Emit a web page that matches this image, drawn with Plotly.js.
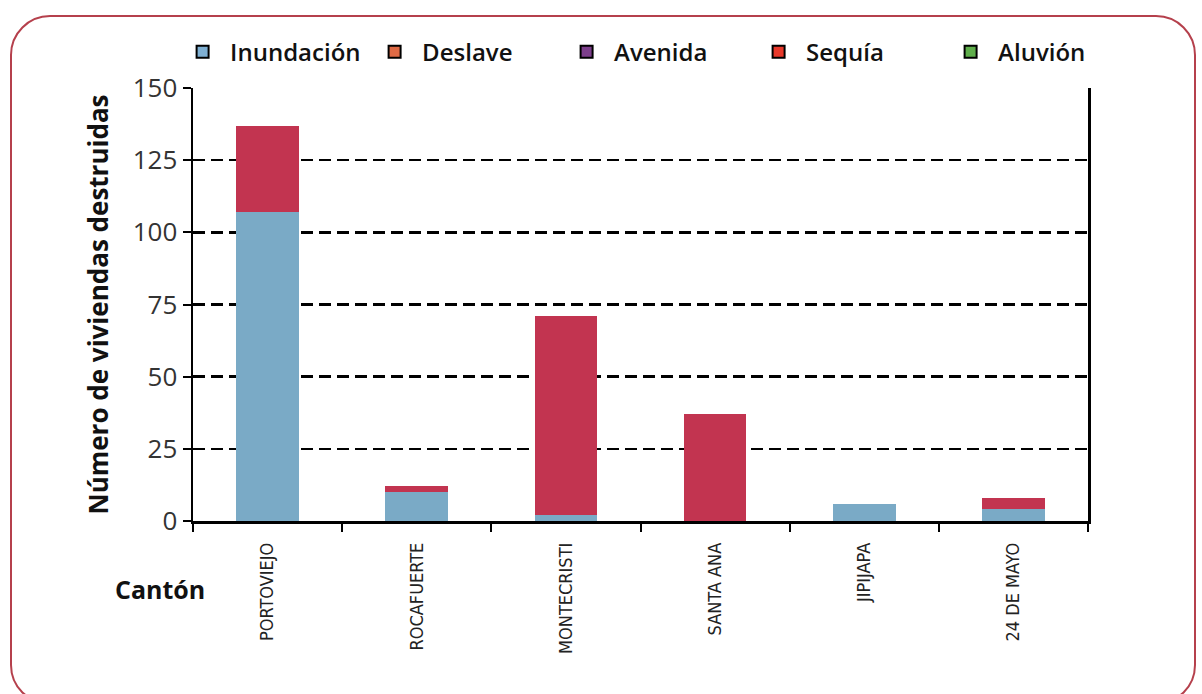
<!DOCTYPE html>
<html><head><meta charset="utf-8">
<script src="https://cdn.plot.ly/plotly-3.0.1.min.js"></script>
<style>
html,body{margin:0;padding:0;background:#fff;}
#frame{position:absolute;left:10px;top:15px;width:1186px;height:690px;border:2px solid #b5404c;border-radius:40px;box-sizing:border-box;}
#chart{position:absolute;left:0;top:0;width:1202px;height:694px;}
</style></head>
<body>
<div id="frame"></div>
<div id="chart"></div>
<script>
const cantones = ["PORTOVIEJO","ROCAFUERTE","MONTECRISTI","SANTA ANA","JIPIJAPA","24 DE MAYO"];
const inundacion = [107, 10, 2, 0, 6, 4];
const deslave    = [30, 2, 69, 37, 0, 4];
const avenida    = [0, 0, 0, 0, 0, 0];
const sequia     = [0, 0, 0, 0, 0, 0];
const aluvion    = [0, 0, 0, 0, 0, 0];
const seriesNames = ["Inundación","Deslave","Avenida","Sequía","Aluvión"];
const legendColors = ["#7fb0d3","#df6a45","#7d3f8c","#e8392b","#5fae4b"];
const barColors = ["#7aaac6","#c23450","#7d3f8c","#e8392b","#5fae4b"];
const yTicks = [0,25,50,75,100,125,150];

const allSeries = [inundacion, deslave, avenida, sequia, aluvion];
const traces = [];
allSeries.forEach((vals,i)=>{
  traces.push({type:'bar', x:cantones, y:vals, name:seriesNames[i], showlegend:false,
    marker:{color:barColors[i], line:{width:0}}, hoverinfo:'x+y+name'});
});
seriesNames.forEach((n,i)=>{
  traces.push({type:'bar', x:[cantones[0]], y:[null], name:n, showlegend:true,
    marker:{color:legendColors[i], line:{color:'#000', width:2}}});
});

const layout = {
  width:1202, height:694,
  paper_bgcolor:'rgba(0,0,0,0)', plot_bgcolor:'rgba(0,0,0,0)',
  margin:{l:193, r:114, t:88, b:173, autoexpand:false},
  barmode:'stack', bargap:0.58,
  font:{family:'"Open Sans", "Noto Sans", sans-serif', color:'#111'},
  showlegend:true,
  legend:{orientation:'h', x:-0.020, xanchor:'left', y:1.083, yanchor:'middle',
    font:{size:24, color:'#111', weight:600}, traceorder:'normal', itemwidth:45,
    entrywidth:132, entrywidthmode:'pixels',
    bgcolor:'rgba(0,0,0,0)'},
  xaxis:{type:'category', showline:true, linecolor:'#000', linewidth:2.5,
    ticks:'outside', tickson:'boundaries', ticklen:8, tickwidth:2, tickcolor:'#000',
    tickangle:-90, ticklabelstandoff:12,
    tickfont:{size:18, family:'"Liberation Sans Narrow", "DejaVu Sans Condensed", "Liberation Sans", sans-serif', color:'#222'},
    showgrid:false, zeroline:false, fixedrange:true},
  yaxis:{range:[0,150], tickvals:yTicks, ticktext:yTicks.map(String),
    showline:true, linecolor:'#000', linewidth:2.5, mirror:true,
    ticks:'outside', ticklen:8, tickwidth:2, tickcolor:'#000',
    tickfont:{size:26, color:'#333'},
    showgrid:true, gridcolor:'#000', gridwidth:2.5, griddash:'12px,6px', zeroline:false,
    title:{text:'<b>Número de viviendas destruidas</b>', font:{size:26, color:'#111'}, standoff:17}},
  annotations:[{text:'<b>Cantón</b>', xref:'paper', yref:'paper', x:-0.037, y:-0.158,
    xanchor:'center', yanchor:'middle', showarrow:false, font:{size:25, color:'#111'}}]
};
Plotly.newPlot('chart', traces, layout, {displayModeBar:false, staticPlot:true});
</script>
</body></html>
